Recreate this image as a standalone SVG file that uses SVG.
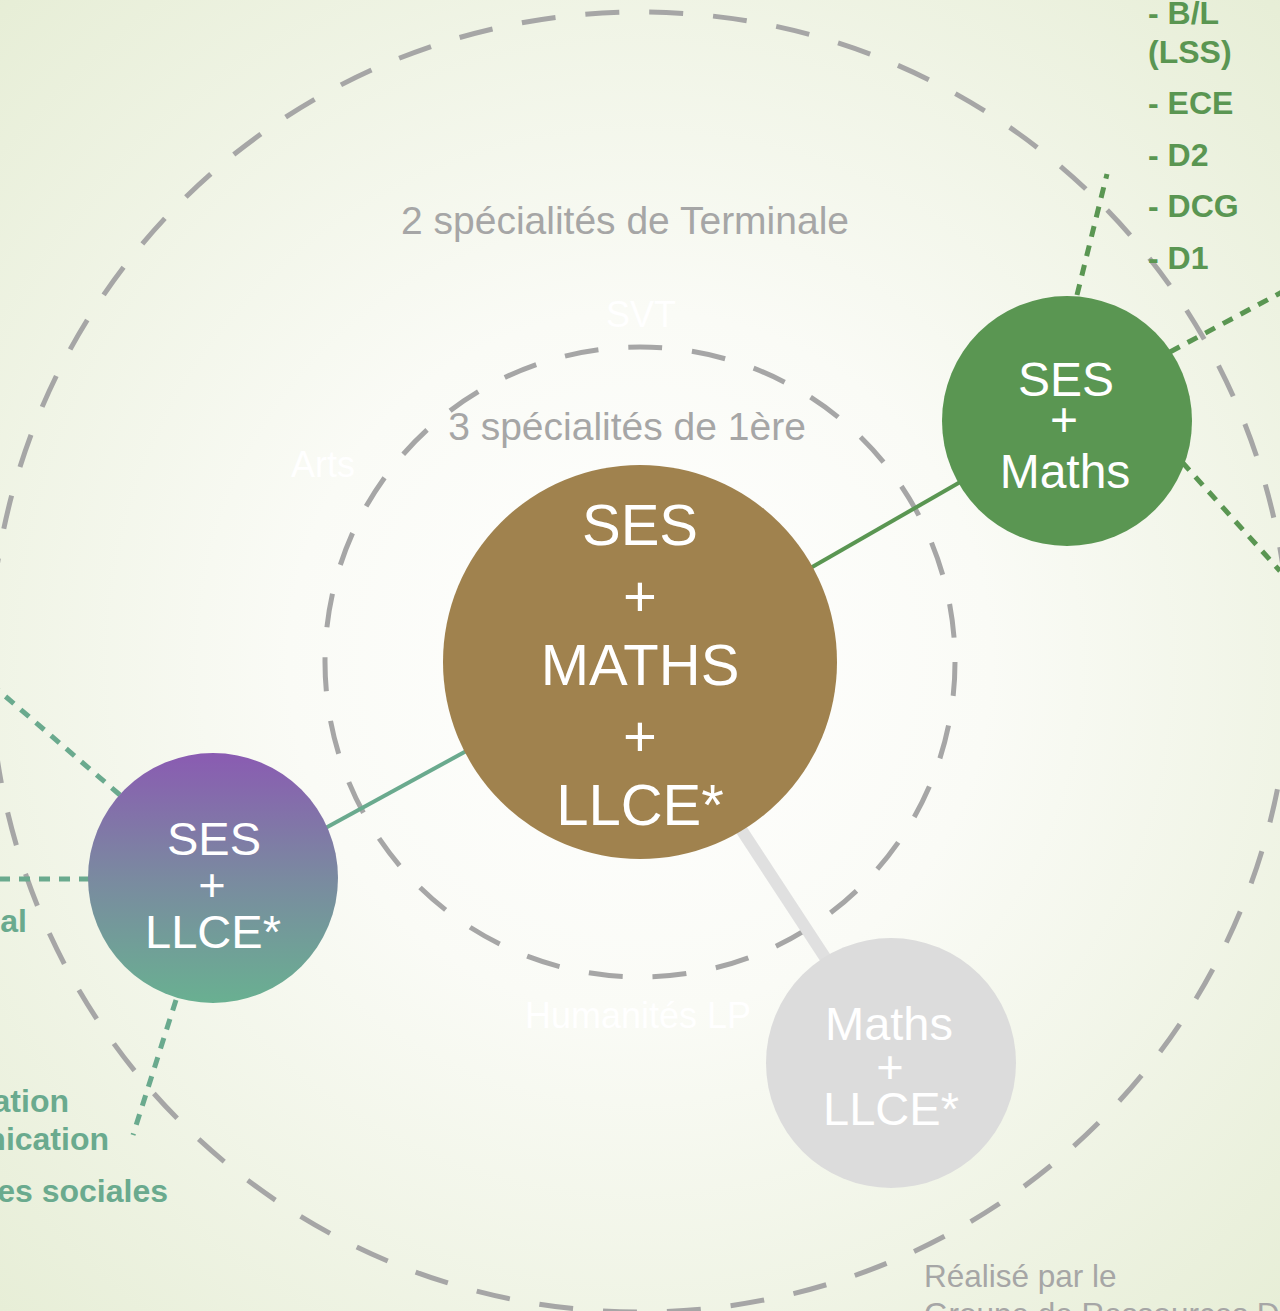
<svg xmlns="http://www.w3.org/2000/svg" width="1280" height="1311" viewBox="0 0 1280 1311">
<defs>
<radialGradient id="bg" cx="640" cy="662" r="1000" gradientUnits="userSpaceOnUse">
<stop offset="0" stop-color="#ffffff"/>
<stop offset="0.35" stop-color="#fafbf6"/>
<stop offset="1" stop-color="#e4ecd2"/>
</radialGradient>
<linearGradient id="purp" x1="0" y1="0" x2="0" y2="1">
<stop offset="0" stop-color="#8a5bb2"/>
<stop offset="0.5" stop-color="#7a8aa0"/>
<stop offset="1" stop-color="#69b091"/>
</linearGradient>
<style>
.ring{fill:none;stroke:#a6a6a6;stroke-width:5;stroke-dasharray:34 30}
.dotg{stroke:#5a9652;stroke-width:5;stroke-dasharray:11 9;fill:none}
.dott{stroke:#6aaa8e;stroke-width:5;stroke-dasharray:11 9;fill:none}
.lbl{font-family:"Liberation Sans",Arial,sans-serif;font-size:39px;fill:#a6a6a6;text-anchor:middle}
.ghost{font-family:"Liberation Sans",Arial,sans-serif;font-size:36px;fill:#ffffff;text-anchor:middle}
.wt{font-family:"Liberation Sans",Arial,sans-serif;fill:#ffffff;text-anchor:middle}
.gl{font-family:"Liberation Sans",Arial,sans-serif;font-weight:bold;font-size:32px;fill:#5a9652}
.tl{font-family:"Liberation Sans",Arial,sans-serif;font-weight:bold;font-size:32px;fill:#6aaa8e;text-anchor:end}
</style>
</defs>
<rect width="1280" height="1311" fill="url(#bg)"/>
<g id="rings">
<circle class="ring" cx="640" cy="662" r="650"/>
<circle class="ring" cx="640" cy="662" r="315"/>
</g>
<g id="ring-labels">
<text class="lbl" x="625" y="234">2 spécialités de Terminale</text>
<text class="lbl" x="627" y="440">3 spécialités de 1ère</text>
<text class="ghost" x="641" y="327">SVT</text>
<text class="ghost" x="323" y="477">Arts</text>
<text class="ghost" x="638" y="1028">Humanités LP</text>
</g>
<g id="connectors">
<line x1="800" y1="574" x2="962" y2="481" stroke="#5a9652" stroke-width="4"/>
<line x1="320" y1="831" x2="470" y2="749" stroke="#6aaa8e" stroke-width="4"/>
<line x1="735" y1="820" x2="830" y2="965" stroke="#e0e0e0" stroke-width="12"/>
<line class="dotg" x1="1077" y1="295" x2="1107" y2="174"/>
<line class="dotg" x1="1170" y1="352" x2="1282" y2="292"/>
<line class="dotg" x1="1182" y1="462" x2="1280" y2="571"/>
<line class="dott" x1="120" y1="795" x2="-2" y2="690"/>
<line class="dott" x1="90" y1="879" x2="0" y2="879"/>
<line class="dott" x1="176" y1="1000" x2="133" y2="1135"/>
</g>
<g id="center">
<circle cx="640" cy="662" r="197" fill="#a0824e"/>
<text class="wt" font-size="58" x="640" y="545">SES</text>
<text class="wt" font-size="58" x="640" y="616">+</text>
<text class="wt" font-size="58" x="640" y="685">MATHS</text>
<text class="wt" font-size="58" x="640" y="756">+</text>
<text class="wt" font-size="58" x="640" y="825">LLCE*</text>
</g>
<g id="ses-maths">
<circle cx="1067" cy="421" r="125" fill="#5a9652"/>
<text class="wt" font-size="48" x="1066" y="396">SES</text>
<text class="wt" font-size="48" x="1064" y="436">+</text>
<text class="wt" font-size="48" x="1065" y="488">Maths</text>
</g>
<g id="ses-llce">
<circle cx="213" cy="878" r="125" fill="url(#purp)"/>
<text class="wt" font-size="47" x="214" y="855">SES</text>
<text class="wt" font-size="47" x="212" y="901">+</text>
<text class="wt" font-size="47" x="213" y="948">LLCE*</text>
</g>
<g id="maths-llce">
<circle cx="891" cy="1063" r="125" fill="#dcdcdc"/>
<text class="wt" font-size="47" x="889" y="1040">Maths</text>
<text class="wt" font-size="47" x="890" y="1083">+</text>
<text class="wt" font-size="47" x="891" y="1125">LLCE*</text>
</g>
<g id="green-list">
<text class="gl" x="1148" y="24">- B/L</text>
<text class="gl" x="1148" y="63">(LSS)</text>
<text class="gl" x="1148" y="114">- ECE</text>
<text class="gl" x="1148" y="166">- D2</text>
<text class="gl" x="1148" y="217">- DCG</text>
<text class="gl" x="1148" y="269">- D1</text>
</g>
<g id="teal-list">
<text class="tl" x="27" y="932">al</text>
<text class="tl" x="69" y="1112">ation</text>
<text class="tl" x="109" y="1150">nication</text>
<text class="tl" x="168" y="1202">es sociales</text>
</g>
<g id="credit">
<text font-family="Liberation Sans, Arial, sans-serif" font-size="31.5" fill="#a6a6a6" x="924" y="1287">Réalisé par le</text>
<text font-family="Liberation Sans, Arial, sans-serif" font-size="31.5" fill="#a6a6a6" x="924" y="1325">Groupe de Ressources D</text>
</g>
</svg>
